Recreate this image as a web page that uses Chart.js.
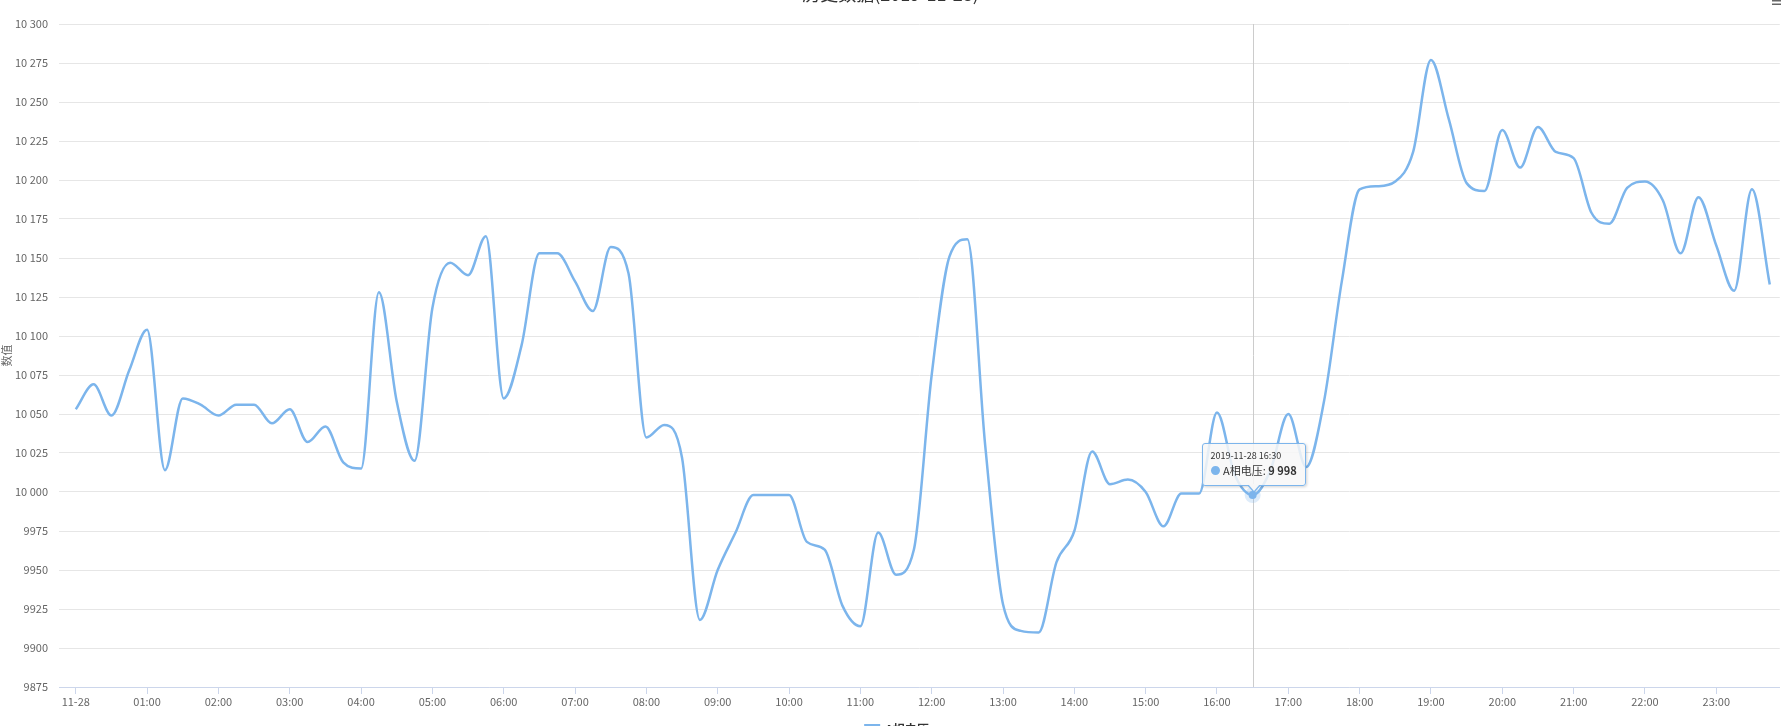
<!DOCTYPE html>
<html>
<head>
<meta charset="utf-8">
<title>历史数据</title>
<script src="https://cdn.jsdelivr.net/npm/chart.js@4.4.0/dist/chart.umd.min.js"></script>
<style>
  html, body { margin: 0; padding: 0; background: #fff; overflow: hidden; }
  #wrap { position: relative; width: 1781px; height: 726px; }
  #tip {
    position: absolute; opacity: 0; pointer-events: none; white-space: nowrap;
    background: rgba(247, 247, 247, 0.85); border: 1px solid #7cb5ec; border-radius: 3px;
    box-shadow: 1px 1px 3px rgba(0, 0, 0, 0.18);
    padding: 6px 8px 6px 8px; color: #333;
    font-family: "Microsoft YaHei", "Noto Sans CJK SC", "Noto Sans", sans-serif;
  }
  #tip .head { font-size: 9px; line-height: 12px; }
  #tip .body { font-size: 11px; line-height: 16px; }
  #tip .dot { color: #7cb5ec; font-size: 10px; }
  #tip:after, #tip:before {
    content: ""; position: absolute; left: 50%; width: 0; height: 0; border-style: solid;
  }
  #tip:before { bottom: -8px; margin-left: -7px; border-width: 8px 7px 0 7px; border-color: #7cb5ec transparent transparent transparent; }
  #tip:after { bottom: -6px; margin-left: -6px; border-width: 7px 6px 0 6px; border-color: rgba(247,247,247,1) transparent transparent transparent; }
</style>
</head>
<body>
<div id="wrap">
  <canvas id="chart" width="1781" height="726"></canvas>
  <div id="tip"></div>
</div>
<script>
var chartTitle = '历史数据(2019-11-28)';
var chartDate = '2019-11-28';
var seriesName = 'A相电压';
var yAxisTitle = '数值';

// 15 minute samples
var times = [
  '00:00','00:15','00:30','00:45','01:00','01:15','01:30','01:45','02:00','02:15','02:30','02:45',
  '03:00','03:15','03:30','03:45','04:00','04:15','04:30','04:45','05:00','05:15','05:30','05:45',
  '06:00','06:15','06:30','06:45','07:00','07:15','07:30','07:45','08:00','08:15','08:30','08:45',
  '09:00','09:15','09:30','09:45','10:00','10:15','10:30','10:45','11:00','11:15','11:30','11:45',
  '12:00','12:15','12:30','12:45','13:00','13:15','13:30','13:45','14:00','14:15','14:30','14:45',
  '15:00','15:15','15:30','15:45','16:00','16:15','16:30','16:45','17:00','17:15','17:30','17:45',
  '18:00','18:15','18:30','18:45','19:00','19:15','19:30','19:45','20:00','20:15','20:30','20:45',
  '21:00','21:15','21:30','21:45','22:00','22:15','22:30','22:45','23:00','23:15','23:30','23:45'
];

var voltage = [
  10053, 10069, 10049, 10078, 10104, 10014, 10060, 10056, 10049, 10056, 10056, 10044,
  10053, 10032, 10042, 10019, 10015, 10128, 10058, 10020, 10118, 10147, 10139, 10164,
  10060, 10094, 10153, 10153, 10135, 10116, 10157, 10140, 10035, 10043, 10022, 9918,
  9950, 9974, 9998, 9998, 9998, 9968, 9963, 9927, 9914, 9974, 9947, 9963,
  10075, 10151, 10162, 10030, 9928, 9911, 9910, 9955, 9975, 10026, 10005, 10008,
  10000, 9978, 9999, 9999, 10051, 10011, 9998, 10014, 10050, 10016, 10058, 10135,
  10194, 10196, 10199, 10218, 10277, 10239, 10198, 10193, 10232, 10208, 10234, 10218,
  10214, 10179, 10172, 10195, 10199, 10187, 10153, 10189, 10158, 10129, 10194, 10133
];

var hourLabels = [
  '11-28','01:00','02:00','03:00','04:00','05:00','06:00','07:00','08:00','09:00','10:00','11:00',
  '12:00','13:00','14:00','15:00','16:00','17:00','18:00','19:00','20:00','21:00','22:00','23:00'
];

var yMin = 9875, yMax = 10300, yStep = 25;
var hoverIndex = times.indexOf('16:30');

var FONT = '"Microsoft YaHei", "Noto Sans CJK SC", "Noto Sans", sans-serif';

function toHours(t) {
  var p = t.split(':');
  return parseInt(p[0], 10) + parseInt(p[1], 10) / 60;
}

function group(v) {
  return String(Math.round(v)).replace(/\B(?=(\d{3})+(?!\d))/g, ' ');
}

// axis labels only get the separator from 5 digits up
function axisFmt(v) {
  var s = String(Math.round(v));
  return s.length < 5 ? s : group(v);
}

var points = times.map(function (t, i) { return { x: toHours(t), y: voltage[i] }; });

var tipEl = document.getElementById('tip');

function externalTip(context) {
  var m = context.tooltip;
  if (m.opacity === 0 || !m.dataPoints || !m.dataPoints.length) { tipEl.style.opacity = 0; return; }
  var dp = m.dataPoints[0];
  tipEl.innerHTML = '<div class="head">' + chartDate + ' ' + times[dp.dataIndex] + '</div>' +
    '<div class="body"><span class="dot">\u25CF</span> ' + seriesName + ': <b>' + group(dp.parsed.y) + '</b></div>';
  tipEl.style.opacity = 1;
  var w = tipEl.offsetWidth, h = tipEl.offsetHeight;
  tipEl.style.left = (m.caretX - w / 2) + 'px';
  tipEl.style.top = (m.caretY - h - 9) + 'px';
}

var crosshair = {
  id: 'crosshair',
  beforeDatasetsDraw: function (chart) {
    var act = chart.getActiveElements();
    if (!act.length) return;
    var x = Math.round(act[0].element.x) + 0.5;
    var ctx = chart.ctx, a = chart.chartArea;
    ctx.save();
    ctx.strokeStyle = '#cccccc';
    ctx.lineWidth = 1;
    ctx.beginPath();
    ctx.moveTo(x, a.top);
    ctx.lineTo(x, a.bottom);
    ctx.stroke();
    ctx.restore();
  }
};

// title sits mostly above the visible area, legend mostly below it
var chrome = {
  id: 'chrome',
  afterDraw: function (chart) {
    var ctx = chart.ctx, W = chart.width, H = chart.height;
    ctx.save();
    ctx.fillStyle = '#333333';
    ctx.font = '18px ' + FONT;
    ctx.textAlign = 'center';
    ctx.textBaseline = 'alphabetic';
    ctx.fillText(chartTitle, W / 2, 1);

    // export menu button
    ctx.fillStyle = '#666666';
    ctx.fillRect(W - 9, 0, 9, 1.5);
    ctx.fillRect(W - 9, 3.5, 9, 1.5);

    // legend
    var ds = chart.data.datasets[0];
    ctx.font = 'bold 12px ' + FONT;
    var tw = ctx.measureText(ds.label).width;
    var total = 16 + 5 + tw;
    var x0 = W / 2 - total / 2 + 6;
    ctx.strokeStyle = ds.borderColor;
    ctx.lineWidth = 2;
    ctx.beginPath();
    ctx.moveTo(x0, H - 1);
    ctx.lineTo(x0 + 16, H - 1);
    ctx.stroke();
    ctx.fillStyle = '#333333';
    ctx.textAlign = 'left';
    ctx.textBaseline = 'middle';
    ctx.fillText(ds.label, x0 + 21, H + 3);
    ctx.restore();
  }
};

var chart = new Chart(document.getElementById('chart'), {
  type: 'line',
  data: {
    datasets: [{
      label: seriesName,
      data: points,
      borderColor: '#7cb5ec',
      backgroundColor: '#7cb5ec',
      borderWidth: 2.5,
      cubicInterpolationMode: 'monotone',
      fill: false,
      pointRadius: 0,
      pointHoverRadius: 4,
      pointHoverBackgroundColor: '#7cb5ec',
      pointHoverBorderColor: 'rgba(124,181,236,0.25)',
      pointHoverBorderWidth: 8
    }]
  },
  options: {
    responsive: false,
    animation: false,
    devicePixelRatio: 1,
    events: [],
    layout: { padding: { top: 24, left: 0, right: 0, bottom: 0 } },
    interaction: { mode: 'nearest', axis: 'x', intersect: false },
    plugins: {
      legend: { display: false },
      title: { display: false },
      tooltip: { enabled: false, external: externalTip }
    },
    scales: {
      x: {
        type: 'linear',
        min: -0.235,
        max: 23.89,
        afterBuildTicks: function (scale) {
          scale.ticks = hourLabels.map(function (l, i) { return { value: i }; });
        },
        afterFit: function (scale) { scale.height = 39; },
        ticks: {
          autoSkip: false,
          maxRotation: 0,
          padding: 1,
          color: '#666666',
          font: { family: FONT, size: 11 },
          callback: function (v) { return hourLabels[v]; }
        },
        grid: {
          drawOnChartArea: false,
          drawTicks: true,
          tickLength: 7,
          tickColor: '#ccd6eb'
        },
        border: { color: '#ccd6eb', width: 1 }
      },
      y: {
        min: yMin,
        max: yMax,
        afterFit: function (scale) { scale.width = 59; },
        ticks: {
          stepSize: yStep,
          padding: 11,
          color: '#666666',
          font: { family: FONT, size: 11 },
          callback: function (v) { return axisFmt(v); }
        },
        grid: { color: '#e6e6e6', drawTicks: false },
        border: { display: false },
        title: {
          display: true,
          text: yAxisTitle,
          color: '#666666',
          font: { family: FONT, size: 11 },
          padding: { top: 0, bottom: 0 }
        }
      }
    }
  },
  plugins: [crosshair, chrome]
});

var act = [{ datasetIndex: 0, index: hoverIndex }];
chart.setActiveElements(act);
chart.tooltip.setActiveElements(act, { x: 0, y: 0 });
chart.update();
</script>
</body>
</html>
